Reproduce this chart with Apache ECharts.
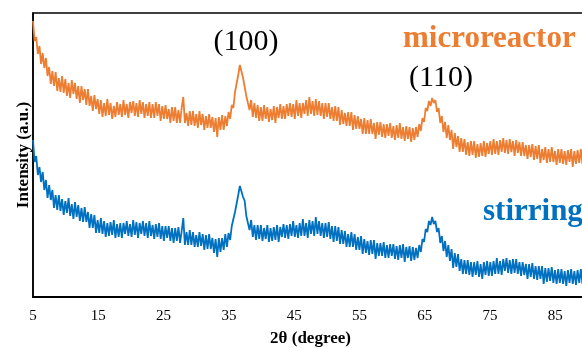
<!DOCTYPE html>
<html>
<head>
<meta charset="utf-8">
<script src="https://cdn.jsdelivr.net/npm/echarts@6/dist/echarts.min.js"></script>
<style>
  html, body { margin: 0; padding: 0; background: #fff; }
  #chart { width: 582px; height: 348px; }
</style>
</head>
<body>
<div id="chart"></div>
<script>
// XRD scan: 2θ from scanStart in steps of scanStep (arbitrary intensity units)
const scanStart = 5;
const scanStep = 0.2475;
const xTickLabels = ['5', '15', '25', '35', '45', '55', '65', '75', '85'];
const seriesNames = ['microreactor', 'stirring'];
const peakLabels = ['(100)', '(110)'];

const microreactorIntensity = [
  276,256,260,243, 251,233,244,229, 239,221,230,213, 226,211,225,206, 219,205,221,204,
  218,201,214,199, 217,203,214,198, 211,194,211,197, 208,192,208,191, 201,186,202,188,
  198,183,197,180, 194,181,198,182, 194,178,191,180, 195,182,193,180, 197,182,193,179,
  195,184,196,181, 194,180,197,183, 195,179,193,181, 195,179,193,179, 195,181,193,176,
  191,178,192,178, 188,174,190,176, 190,174,187,174, 189,200,174,184, 171,186,172,186,
  171,183,169,186, 172,183,167,181, 169,183,169,180, 165,179,160,180, 167,182,167,181,
  171,185,178,192, 189,205,206,222, 232,232,219,217, 201,203,187,197, 180,194,179,192,
  176,190,176,192, 178,190,175,188, 177,191,174,190, 179,193,178,191, 178,193,181,194,
  180,193,178,197, 181,194,179,194, 183,197,181,200, 183,196,181,198, 182,196,181,194,
  178,194,180,194, 178,190,176,191, 176,190,172,187, 173,184,171,185, 171,185,167,182,
  168,181,168,178, 163,179,163,177, 163,178,163,174, 158,175,162,175, 160,173,159,173,
  161,174,159,171, 157,172,159,174, 158,170,156,171, 158,170,155,169, 157,170,160,173,
  166,179,175,189, 186,196,191,199, 194,197,185,189, 174,181,165,175, 159,172,157,167,
  148,164,150,161, 145,159,145,158, 142,155,141,156, 142,156,139,153, 140,154,141,156,
  140,154,143,156, 142,158,143,156, 142,157,145,159, 144,157,143,158, 145,156,141,157,
  144,155,141,155, 141,152,138,152, 140,153,137,151, 138,152,134,148, 137,150,134,148,
  135,150,135,146, 132,148,134,148, 133,146,132,147, 135,148,130,146, 133,147,134,148,
  133
];

const stirringIntensity = [
  157,135,141,122, 130,115,125,107, 117,99,112,97, 107,89,102,87, 102,86,98,82,
  96,84,99,81, 93,78,95,80, 92,76,89,75, 90,75,85,69, 83,69,82,64,
  77,64,79,63, 76,60,74,61, 75,62,77,59, 73,60,74,59, 74,63,76,61,
  73,60,77,62, 75,59,74,63, 76,61,74,59, 76,61,72,58, 73,60,74,58,
  71,56,71,59, 71,56,69,54, 69,56,70,54, 66,79,52,65, 52,67,52,65,
  50,62,50,65, 51,63,47,62, 48,63,48,59, 44,58,40,59, 45,59,47,63,
  50,64,57,71, 69,85,86,102, 111,113,100,96, 81,83,67,77, 60,72,57,72,
  58,72,56,69, 58,72,55,69, 56,70,57,72, 55,70,60,73, 59,72,58,73,
  61,76,60,72, 59,74,61,78, 61,74,59,77, 63,76,61,80, 63,76,61,74,
  59,74,60,75, 58,71,55,71, 56,70,53,67, 53,66,50,63, 50,65,50,63,
  47,60,47,61, 43,58,44,56, 42,57,43,57, 38,54,41,54, 41,55,39,52,
  39,53,41,53, 38,51,37,52, 39,53,35,50, 39,51,36,50, 37,49,39,52,
  45,58,55,68, 65,76,72,80, 73,76,65,69, 54,61,46,56, 40,52,36,48,
  29,44,30,43, 26,38,23,37, 23,37,22,35, 20,35,22,36, 20,33,18,35,
  22,36,21,35, 21,36,23,39, 23,36,22,38, 26,39,24,37, 23,38,24,38,
  23,35,21,35, 22,33,18,33, 20,34,18,31, 17,31,18,31, 13,29,15,29,
  16,30,14,27, 13,28,14,28, 13,26,11,27, 14,28,13,26, 12,27,14,28,
  13
];

const orange = '#ED7D31';
const blue = '#0070C0';
const serif = '"Times New Roman", "Liberation Serif", serif';

const toPairs = arr => arr.map((v, i) => [+(scanStart + i * scanStep).toFixed(4), v]);

const chart = echarts.init(document.getElementById('chart'), null, { renderer: 'canvas' });
chart.setOption({
  animation: false,
  backgroundColor: '#fff',
  grid: {
    left: 33, top: 13, width: 555, height: 284,
    outerBoundsMode: 'none', containLabel: false,
    show: true, borderColor: '#000', borderWidth: 1.5, backgroundColor: 'transparent'
  },
  xAxis: {
    type: 'value', min: 5, max: 90, interval: 10,
    name: '2θ (degree)', nameLocation: 'middle', nameGap: 33,
    nameTextStyle: { fontFamily: serif, fontWeight: 'bold', fontSize: 17, color: '#000' },
    axisLine: { show: true, lineStyle: { color: '#000', width: 2 } },
    axisTick: { show: false },
    splitLine: { show: false },
    axisLabel: {
      margin: 12, fontFamily: serif, fontSize: 15, color: '#000',
      showMaxLabel: false,
      formatter: v => xTickLabels.includes(String(v)) ? String(v) : ''
    }
  },
  yAxis: {
    type: 'value', min: 0, max: 284,
    name: 'Intensity (a.u.)', nameLocation: 'middle', nameGap: 1, nameRotate: 90,
    nameTextStyle: { fontFamily: serif, fontWeight: 'bold', fontSize: 17, color: '#000' },
    axisLine: { show: true, lineStyle: { color: '#000', width: 1.5 } },
    axisTick: { show: false },
    axisLabel: { show: false },
    splitLine: { show: false }
  },
  series: [
    {
      name: seriesNames[0], type: 'line', data: toPairs(microreactorIntensity),
      showSymbol: false, sampling: null, clip: true,
      lineStyle: { color: orange, width: 1.8 }, itemStyle: { color: orange }
    },
    {
      name: seriesNames[1], type: 'line', data: toPairs(stirringIntensity),
      showSymbol: false, sampling: null, clip: true,
      lineStyle: { color: blue, width: 1.8 }, itemStyle: { color: blue }
    }
  ],
  graphic: [
    { type: 'text', x: 246, y: 42, style: { text: peakLabels[0], fill: '#000', font: '30px ' + serif, textAlign: 'center', textVerticalAlign: 'middle' } },
    { type: 'text', x: 441, y: 78, style: { text: peakLabels[1], fill: '#000', font: '30px ' + serif, textAlign: 'center', textVerticalAlign: 'middle' } },
    { type: 'text', x: 403, y: 39, style: { text: seriesNames[0], fill: orange, font: 'bold 31px ' + serif, textAlign: 'left', textVerticalAlign: 'middle' } },
    { type: 'text', x: 483, y: 212, style: { text: seriesNames[1], fill: blue, font: 'bold 31px ' + serif, textAlign: 'left', textVerticalAlign: 'middle' } }
  ]
});
</script>
</body>
</html>
